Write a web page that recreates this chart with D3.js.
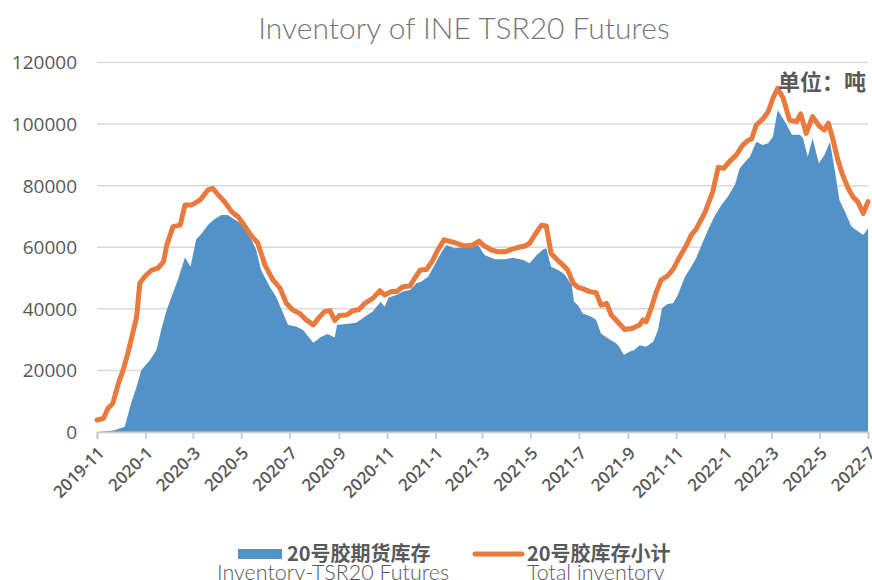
<!DOCTYPE html>
<html>
<head>
<meta charset="utf-8">
<script src="https://cdn.jsdelivr.net/npm/d3@7"></script>
<style>
  body { margin: 0; background: #fff; }
  svg { display: block; }
</style>
</head>
<body>
<div id="chart"></div>
<script>
// total inventory (orange line)
const totalDates = ["2019-11-01","2019-11-09","2019-11-15","2019-11-21","2019-11-28","2019-12-04","2019-12-10","2019-12-16","2019-12-21","2019-12-25","2019-12-31",
 "2020-01-09","2020-01-17","2020-01-24","2020-01-28","2020-02-05","2020-02-14","2020-02-20","2020-02-28","2020-03-10","2020-03-20","2020-03-26",
 "2020-04-02","2020-04-10","2020-04-19","2020-04-27","2020-05-03","2020-05-13","2020-05-22","2020-05-31","2020-06-10","2020-06-19","2020-06-27",
 "2020-07-05","2020-07-14","2020-07-22","2020-07-31","2020-08-08","2020-08-14","2020-08-21","2020-08-27","2020-09-02","2020-09-11","2020-09-19",
 "2020-09-27","2020-10-04","2020-10-14","2020-10-23","2020-10-29","2020-11-06","2020-11-13","2020-11-21","2020-11-30","2020-12-06","2020-12-13",
 "2020-12-21","2020-12-29","2021-01-04","2021-01-12","2021-01-21","2021-01-30","2021-02-07","2021-02-17","2021-02-25","2021-03-04","2021-03-13",
 "2021-03-21","2021-03-30","2021-04-07","2021-04-15","2021-04-24","2021-04-30","2021-05-09","2021-05-15","2021-05-21","2021-05-27","2021-06-05",
 "2021-06-11","2021-06-17","2021-06-24","2021-06-30","2021-07-04","2021-07-15","2021-07-23","2021-07-29","2021-08-05","2021-08-11","2021-08-19",
 "2021-08-28","2021-09-07","2021-09-16","2021-09-20","2021-09-24","2021-10-01","2021-10-07","2021-10-13","2021-10-21","2021-10-28","2021-11-05",
 "2021-11-14","2021-11-20","2021-11-26","2021-12-07","2021-12-17","2021-12-24","2021-12-31","2022-01-07","2022-01-16","2022-01-24","2022-01-31",
 "2022-02-04","2022-02-10","2022-02-18","2022-02-25","2022-03-03","2022-03-09","2022-03-16","2022-03-24","2022-04-02","2022-04-07","2022-04-14",
 "2022-04-22","2022-05-01","2022-05-07","2022-05-12","2022-05-18","2022-05-24","2022-05-30","2022-06-06","2022-06-12","2022-06-18","2022-06-25","2022-07-01"];
const totalValues = [3900,4400,7700,9300,15800,20100,25600,32000,37400,48300,50400,
 52600,53200,55300,60700,66700,67200,73700,73700,75300,78600,79100,
 77000,74800,71500,69900,67800,64000,61300,54200,49400,46700,41800,
 39600,38500,36400,34800,37400,39100,39400,36200,37800,38000,39400,
 39800,41800,43400,45900,44500,45600,45600,47200,47400,50000,52600,
 52800,55900,59100,62400,61800,61100,60400,60700,62000,60400,59100,
 58500,58500,59300,59900,60400,61300,65000,67200,66900,58000,55600,
 54200,52600,48300,47000,46700,45600,45200,41200,41800,38000,35800,
 33300,33700,34800,36400,35800,40700,45600,49400,50700,52800,56700,
 60700,64000,65800,71200,78000,86000,85600,87800,90000,93200,94800,
 95100,99700,101600,104000,108400,111600,108400,101300,100800,103300,97000,
 102400,99200,98100,100300,94800,88300,83500,79100,76400,74800,71000,74800];

// futures inventory (blue area)
const futDates = ["2019-11-01","2019-11-22","2019-12-06","2019-12-14","2019-12-21","2019-12-27","2020-01-07","2020-01-15","2020-01-22","2020-01-28",
 "2020-02-03","2020-02-11","2020-02-20","2020-02-27","2020-03-05","2020-03-12","2020-03-20","2020-03-28","2020-04-06","2020-04-14","2020-04-23",
 "2020-05-03","2020-05-12","2020-05-20","2020-05-26","2020-06-06","2020-06-14","2020-06-23","2020-06-29","2020-07-10","2020-07-18","2020-07-31",
 "2020-08-10","2020-08-18","2020-08-27","2020-08-30","2020-09-11","2020-09-23","2020-10-04","2020-10-14","2020-10-24","2020-10-29","2020-11-03",
 "2020-11-13","2020-11-21","2020-11-30","2020-12-08","2020-12-14","2020-12-23","2020-12-31","2021-01-09","2021-01-15","2021-01-25","2021-02-05",
 "2021-02-15","2021-02-24","2021-03-04","2021-03-17","2021-03-30","2021-04-09","2021-04-22","2021-04-30","2021-05-09","2021-05-17","2021-05-21",
 "2021-05-27","2021-06-05","2021-06-13","2021-06-22","2021-06-25","2021-06-30","2021-07-06","2021-07-17","2021-07-23","2021-07-29","2021-08-07",
 "2021-08-17","2021-08-21","2021-08-27","2021-09-03","2021-09-09","2021-09-16","2021-09-24","2021-10-03","2021-10-09","2021-10-14","2021-10-21",
 "2021-10-28","2021-11-03","2021-11-12","2021-11-20","2021-11-26","2021-12-03","2021-12-11","2021-12-19","2021-12-28","2022-01-05","2022-01-14",
 "2022-01-20","2022-01-29","2022-02-02","2022-02-10","2022-02-18","2022-02-25","2022-03-03","2022-03-09","2022-03-18","2022-03-27","2022-04-06",
 "2022-04-10","2022-04-16","2022-04-22","2022-04-30","2022-05-07","2022-05-14","2022-05-20","2022-05-26","2022-06-02","2022-06-10","2022-06-16",
 "2022-06-25","2022-07-01"];
const futValues = [0,500,1700,9300,14700,20100,23400,26600,34200,39600,
 43900,49400,56700,53700,62400,64500,67200,69100,70500,70500,68900,
 67200,63500,59100,52600,47200,43900,38500,34800,34200,33100,29000,
 30900,31800,30700,34800,35100,35500,37400,39100,42300,40700,43700,
 44500,45600,46100,48300,48800,50400,54200,58500,60700,59700,60000,
 60200,60700,57500,56100,56100,56600,55900,54800,57500,59300,59700,
 53700,52600,51200,47700,42300,41200,38500,37400,36400,32000,30400,
 28800,27700,25000,26100,26600,28200,27700,29300,33100,40200,41600,
 41800,44500,50400,53700,56400,60700,65600,69900,73700,76400,80200,
 85600,88300,89400,94300,93200,93800,95900,104600,100800,96500,96500,
 95400,89400,95400,87300,90000,94300,85100,75300,71500,66700,65600,
 64000,66200];

const yTicks = [0,20000,40000,60000,80000,100000,120000];
const xTickLabels = ["2019-11","2020-1","2020-3","2020-5","2020-7","2020-9","2020-11","2021-1","2021-3","2021-5","2021-7","2021-9","2021-11","2022-1","2022-3","2022-5","2022-7"];

const parse = d3.timeParse("%Y-%m-%d");
const parseTick = d3.timeParse("%Y-%m");
const total = totalDates.map((d,i)=>({date:parse(d), value:totalValues[i]}));
const fut = futDates.map((d,i)=>({date:parse(d), value:futValues[i]}));
const tickDates = xTickLabels.map(s=>parseTick(s));

const svgWidth = 872, svgHeight = 580;
const plotLeft = 97, plotRight = 868, plotTop = 62.5, plotBottom = 432;

const svg = d3.select("#chart").append("svg")
  .attr("width", svgWidth).attr("height", svgHeight);

const x = d3.scaleTime().domain([tickDates[0], tickDates[tickDates.length-1]]).range([plotLeft, plotRight]);
const y = d3.scaleLinear().domain([0,120000]).range([plotBottom, plotTop]);

// gridlines
svg.append("g").selectAll("line").data(yTicks.filter(v=>v>0)).join("line")
  .attr("x1", plotLeft).attr("x2", plotRight)
  .attr("y1", d=>y(d)).attr("y2", d=>y(d))
  .attr("stroke", "#d9d9d9").attr("stroke-width", 1.5);

// y labels
svg.append("g").selectAll("text").data(yTicks).join("text")
  .attr("x", 77).attr("y", d=>y(d)).attr("dy", "0.36em")
  .attr("text-anchor", "end")
  .style("font-family", "'Open Sans', sans-serif").style("font-size", "19px").style("font-weight", 500)
  .attr("fill", "#595959")
  .text(d=>d);

// area for futures
const area = d3.area().x(d=>x(d.date)).y0(y(0)).y1(d=>y(d.value));
svg.append("path").datum(fut).attr("fill", "#5292c6").attr("d", area);

// x axis
const xAxis = d3.axisBottom(x).tickValues(tickDates).tickSize(7).tickFormat((d,i)=>xTickLabels[i]);
const gx = svg.append("g").attr("transform", "translate(0," + plotBottom + ")").call(xAxis);
gx.select(".domain").attr("stroke", "#d0d0d0").attr("stroke-width", 2);
gx.selectAll(".tick line").attr("stroke", "#d0d0d0").attr("stroke-width", 2);
gx.selectAll(".tick text")
  .attr("fill", "#595959")
  .style("font-family", "'Open Sans', sans-serif").style("font-size", "17px").style("font-weight", 600)
  .attr("text-anchor", "end")
  .attr("dy", 0).attr("y", 0)
  .attr("transform", "translate(8,22) rotate(-45)");

// total line
const line = d3.line().x(d=>x(d.date)).y(d=>y(d.value));
svg.append("path").datum(total)
  .attr("fill", "none").attr("stroke", "#e9793c").attr("stroke-width", 5)
  .attr("stroke-linejoin", "round").attr("stroke-linecap", "round")
  .attr("d", line);

// title
svg.append("text").attr("x", 464).attr("y", 39).attr("text-anchor", "middle")
  .style("font-family", "Lato, sans-serif").style("font-weight", 300).style("font-size", "30px")
  .attr("fill", "#777").text("Inventory of INE TSR20 Futures");

// unit
svg.append("text").attr("x", 778).attr("y", 90)
  .style("font-family", "'Noto Sans CJK SC', sans-serif").style("font-weight", 700).style("font-size", "22px")
  .attr("fill", "#595959").text("单位：吨");

// legend
const lg = svg.append("g");
lg.append("rect").attr("x", 238).attr("y", 549).attr("width", 44).attr("height", 10).attr("fill", "#5292c6");
lg.append("text").attr("x", 287).attr("y", 561)
  .style("font-family", "'Noto Sans CJK SC', sans-serif").style("font-weight", 700).style("font-size", "20px")
  .attr("fill", "#595959").text("20号胶期货库存");
lg.append("text").attr("x", 217).attr("y", 580)
  .style("font-family", "Lato, sans-serif").style("font-weight", 300).style("font-size", "21.5px")
  .attr("fill", "#595959").text("Inventory-TSR20 Futures");
lg.append("line").attr("x1", 475).attr("x2", 522).attr("y1", 554).attr("y2", 554)
  .attr("stroke", "#e9793c").attr("stroke-width", 5).attr("stroke-linecap", "round");
lg.append("text").attr("x", 527).attr("y", 561)
  .style("font-family", "'Noto Sans CJK SC', sans-serif").style("font-weight", 700).style("font-size", "20px")
  .attr("fill", "#595959").text("20号胶库存小计");
lg.append("text").attr("x", 527).attr("y", 580)
  .style("font-family", "Lato, sans-serif").style("font-weight", 300).style("font-size", "21.5px")
  .attr("fill", "#595959").text("Total inventory");
</script>
</body>
</html>
